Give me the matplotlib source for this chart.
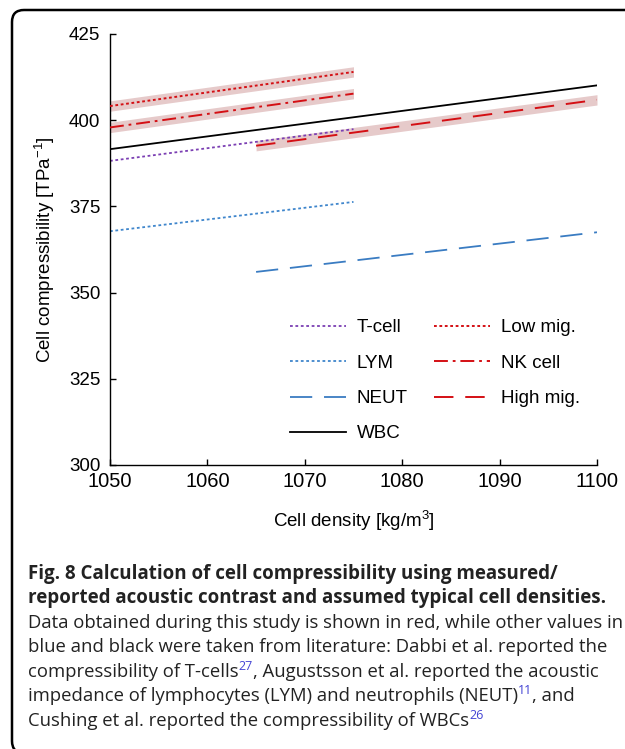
import matplotlib
matplotlib.use('Agg')
import matplotlib.pyplot as plt
from matplotlib.patches import FancyBboxPatch

plt.rcParams['font.family'] = ['Liberation Sans', 'DejaVu Sans']
plt.rcParams['mathtext.fontset'] = 'custom'
plt.rcParams['mathtext.rm'] = 'Liberation Sans'
plt.rcParams['mathtext.it'] = 'Liberation Sans:italic'
plt.rcParams['lines.scale_dashes'] = False

# data
density_lit = [1050, 1075]
density_wbc = [1050, 1100]
density_late = [1065, 1100]

tcell = [388.2, 397.4]
lym = [367.8, 376.3]
neut = [356.0, 367.5]
wbc = [391.6, 410.1]
low_mig = [404.1, 414.0]
nk_cell = [397.9, 407.7]
high_mig = [392.6, 405.9]
band = 1.5

x_ticks = [1050, 1060, 1070, 1080, 1090, 1100]
y_ticks = [300, 325, 350, 375, 400, 425]

red = '#d40f14'
band_color = '#e6caca'

W, H = 625, 749
fig = plt.figure(figsize=(W / 100, H / 100), dpi=100)
ax = fig.add_axes([110 / W, 1 - 465 / H, 487 / W, 431 / H])

# uncertainty bands of the measured data
for xs, ys in [(density_lit, low_mig), (density_lit, nk_cell), (density_late, high_mig)]:
    ax.fill_between(xs, [v - band for v in ys], [v + band for v in ys],
                    color=band_color, lw=0, zorder=1)

ax.plot(density_lit, tcell, color='#7b3fb3', lw=1.3, dashes=(2.0, 1.9), label='T-cell', zorder=2)
ax.plot(density_lit, lym, color='#3f86cc', lw=1.3, dashes=(2.0, 1.9), label='LYM', zorder=2)
ax.plot(density_late, neut, color='#3a7cc2', lw=1.3, dashes=(16, 8.5), label='NEUT', zorder=2)
ax.plot(density_wbc, wbc, color='black', lw=1.3, label='WBC', zorder=2)
ax.plot(density_lit, low_mig, color=red, lw=1.4, dashes=(2.0, 1.9), label='Low mig.', zorder=3)
ax.plot(density_lit, nk_cell, color=red, lw=1.4, dashes=(10, 3.5, 2, 3.5), label='NK cell', zorder=3)
ax.plot(density_late, high_mig, color=red, lw=1.4, dashes=(14, 8.5), label='High mig.', zorder=3)

ax.set_xlim(1050, 1100)
ax.set_ylim(300, 425)
ax.set_xticks(x_ticks)
ax.set_yticks(y_ticks)
ax.spines['top'].set_visible(False)
ax.spines['right'].set_visible(False)
for s in ['left', 'bottom']:
    ax.spines[s].set_linewidth(1.0)
ax.tick_params(direction='in', length=4, width=1.0)
ax.tick_params(axis='y', pad=7, labelsize=13.5)
ax.tick_params(axis='x', pad=5, labelsize=14.5)

ax.set_xlabel('Cell density [kg/m$^3$]', fontsize=13.5)
ax.set_ylabel('Cell compressibility [TPa$^{-1}$]', fontsize=13.5)
ax.xaxis.set_label_coords(0.5, -0.103)
ax.yaxis.set_label_coords(-0.108, 0.5)

ax.legend(ncol=2, frameon=False, loc='upper left', bbox_to_anchor=(0.37, 0.338),
          borderaxespad=0, borderpad=0, fontsize=13.5, handlelength=3.0,
          handletextpad=0.55, labelspacing=0.97, columnspacing=1.4)

# frame around figure + caption
frame = FancyBboxPatch((12, -4), 700, H - 10 + 4, boxstyle='round,pad=0,rounding_size=12',
                       transform=None, fill=False, ec='black', lw=1.8)
fig.patches.append(frame)

renderer = fig.canvas.get_renderer()
cap_font = 'Open Sans'
body_size = 13.3
sup_color = '#4444d4'


def caption_line(py, pieces, weight='normal', size=body_size):
    x = 28 / W
    y = 1 - py / H
    for txt, sup in pieces:
        if sup:
            t = fig.text(x, y + 7 / H, txt, fontsize=9, color=sup_color,
                         family=cap_font, va='baseline')
        else:
            t = fig.text(x, y, txt, fontsize=size, color='#222222', family=cap_font,
                         weight=weight, va='baseline')
        x += t.get_window_extent(renderer).width / W


caption_line(579, [('Fig. 8 Calculation of cell compressibility using measured/', False)],
             weight='bold', size=13.5)
caption_line(603, [('reported acoustic contrast and assumed typical cell densities.', False)],
             weight='bold', size=13.5)
caption_line(628, [('Data obtained during this study is shown in red, while other values in', False)])
caption_line(652, [('blue and black were taken from literature: Dabbi et al. reported the', False)])
caption_line(677, [('compressibility of T-cells', False), ('27', True),
                   (', Augustsson et al. reported the acoustic', False)])
caption_line(701, [('impedance of lymphocytes (LYM) and neutrophils (NEUT)', False), ('11', True),
                   (', and', False)])
caption_line(726, [('Cushing et al. reported the compressibility of WBCs', False), ('26', True)])

fig.savefig('out.png', dpi=100)
